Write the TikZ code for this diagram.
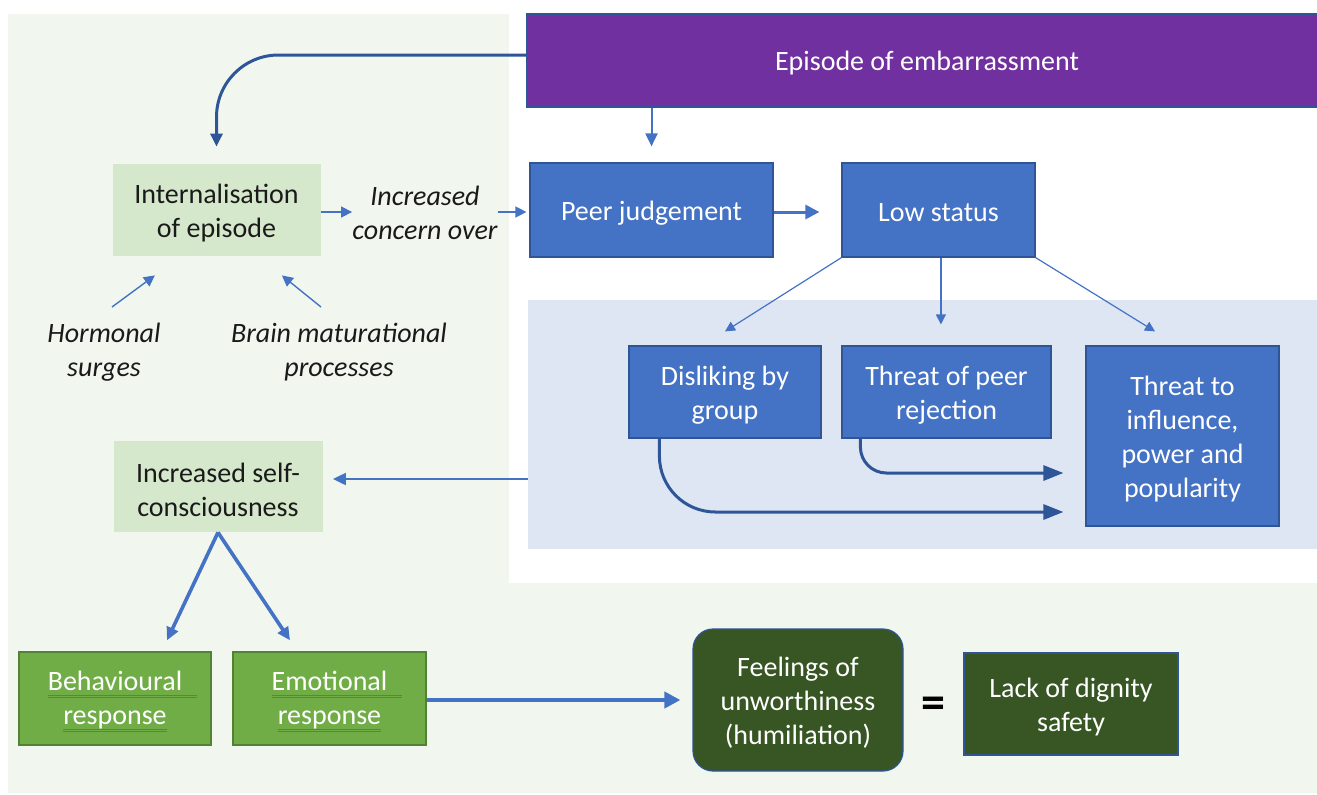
\documentclass[tikz,border=0pt]{standalone}
\usepackage{fontspec}
\setmainfont{Carlito}
\usetikzlibrary{arrows.meta,calc}

\definecolor{panelgreen}{HTML}{F1F7EE}
\definecolor{panelblue}{HTML}{DEE6F4}
\definecolor{palegreen}{HTML}{D5E8CB}
\definecolor{boxblue}{HTML}{4472C4}
\definecolor{edgeblue}{HTML}{2F5597}
\definecolor{episodepurple}{HTML}{7030A0}
\definecolor{leafgreen}{HTML}{70AD47}
\definecolor{leafedge}{HTML}{548235}
\definecolor{deepgreen}{HTML}{375623}
\definecolor{linkblue}{HTML}{4472C4}
\definecolor{navyline}{HTML}{2E5597}
\definecolor{ulblue}{HTML}{3F7FAF}
\definecolor{inkblack}{HTML}{1A1A1A}

% double underline drawn under a word, optionally extended to the right
\newlength\ulwidth
\newcommand\dblul[2][0pt]{\settowidth\ulwidth{#2}\addtolength\ulwidth{#1}%
  \makebox[0pt][l]{\color{ulblue}\rule[-2.8pt]{\ulwidth}{0.5pt}\hspace*{-\ulwidth}\rule[-4pt]{\ulwidth}{0.5pt}}#2}

\begin{document}
\begin{tikzpicture}[x=0.5pt,y=-0.5pt,
  txt/.style={inner sep=0pt, align=center, font=\fontsize{14}{17}\selectfont},
  note/.style={txt, text=inkblack, font=\fontsize{14}{17}\selectfont\itshape},
  box/.style={rectangle, inner sep=0pt},
  bluebox/.style={box, fill=boxblue, draw=edgeblue, line width=0.6pt},
  palebox/.style={box, fill=palegreen},
  leafbox/.style={box, fill=leafgreen, draw=leafedge, line width=0.7pt},
  darkbox/.style={box, fill=deepgreen, draw=edgeblue, line width=0.6pt},
  light/.style={txt, text=white},
  dark/.style={txt, text=inkblack},
  thinlink/.style={draw=linkblue, line width=0.7pt, -{Triangle[length=5.5pt,width=5.5pt]}},
  midlink/.style={draw=linkblue, line width=1pt, -{Triangle[length=6.5pt,width=6pt]}},
  boldlink/.style={draw=linkblue, line width=1.8pt, -{Triangle[length=6.5pt,width=6pt]}},
  navylink/.style={draw=navyline, line width=1.5pt, -{Triangle[length=6.5pt,width=6pt]}},
  curvelink/.style={draw=navyline, line width=1.5pt, -{Triangle[length=10pt,width=7.5pt]}},
  spoke/.style={draw=linkblue, line width=0.6pt, -{Triangle[length=5pt,width=5pt]}}
]
\useasboundingbox (0,0) rectangle (1317,794);
\clip (0,0) rectangle (1317,794);

% background panels
\fill[panelgreen] (8,14) rectangle (509,793);
\fill[panelgreen] (8,583) rectangle (1317,793);
\node[fill=panelblue, inner sep=0pt, minimum width=394.5pt, minimum height=124.5pt] (threats) at (922.5,424.5) {};

% top row
\node[box, fill=episodepurple, draw=edgeblue, line width=0.8pt,
      minimum width=401pt, minimum height=46.5pt] (episode) at (928,60.5) {};
\node[light] (episodetext) at ([xshift=-0.5pt,yshift=-1.5pt]episode.center) {Episode of embarrassment};

\node[palebox, minimum width=104pt, minimum height=46pt] (intern) at (216.5,210) {};
\node[dark] (interntext) at ([yshift=-1.5pt]intern.center) {Internalisation\\of episode};

\node[note] (concern) at (425,213) {Increased\\concern over};

\node[bluebox, minimum width=121.5pt, minimum height=47pt] (peer) at (651.5,210) {};
\node[light] (peertext) at ([yshift=-1.5pt]peer.center) {Peer judgement};

\node[bluebox, minimum width=96.5pt, minimum height=47pt] (low) at (938.5,210) {};
\node[light] (lowtext) at ([yshift=-1.5pt]low.center) {Low status};

% influences on internalisation
\node[note] (hormonal) at (104,352.5) {Hormonal\\surges};
\node[note] (brain) at (339,352.5) {Brain maturational\\processes};
\coordinate (hormtail) at (112,307);
\coordinate (braintail) at (321,307);

% threats
\node[bluebox, minimum width=96pt, minimum height=46pt] (dislike) at (725,392) {};
\node[light] (disliketext) at ([yshift=-1.5pt]dislike.center) {Disliking by\\group};
\node[bluebox, minimum width=104.5pt, minimum height=46pt] (reject) at (946.5,392) {};
\node[light] (rejecttext) at ([yshift=-1.5pt]reject.center) {Threat of peer\\rejection};
\node[bluebox, minimum width=96.5pt, minimum height=90pt] (influence) at (1182.5,436) {};
\node[light] (influencetext) at ([yshift=-1.5pt]influence.center) {Threat to\\influence,\\power and\\popularity};

% self-consciousness and responses
\node[palebox, minimum width=104.5pt, minimum height=45.5pt] (selfc) at (218,486.5) {};
\node[dark] (selfctext) at ([yshift=-1.5pt]selfc.center) {Increased self-\\consciousness};
\node[leafbox, minimum width=96pt, minimum height=46.5pt] (behav) at (115,698.5) {};
\node[light] (behavtext) at ([yshift=-1.5pt]behav.center) {\dblul[7.5pt]{Behavioural}\\\dblul{response}};
\node[leafbox, minimum width=96.5pt, minimum height=46.5pt] (emot) at (329.5,698.5) {};
\node[light] (emottext) at ([yshift=-1.5pt]emot.center) {\dblul[7.5pt]{Emotional}\\\dblul{response}};
\node[darkbox, rounded corners=10pt, minimum width=105pt, minimum height=71pt] (feel) at (798,700) {};
\node[light] (feeltext) at ([yshift=-1.5pt]feel.center) {Feelings of\\unworthiness\\(humiliation)};
\node[inner sep=0pt, font=\fontsize{24}{26}\selectfont\bfseries] (equals) at (933,708) {=};
\node[darkbox, minimum width=107pt, minimum height=51pt] (lack) at (1071,704) {};
\node[light] (lacktext) at ([yshift=-1.5pt]lack.center) {Lack of dignity\\safety};

% connectors
\draw[navylink, rounded corners=31pt] ([yshift=2.75pt]episode.west) -| ([yshift=8.5pt]intern.north);
\draw[midlink] (episode.south -| peer.north) -- ([yshift=8pt]peer.north);
\draw[thinlink] ([yshift=-1pt]intern.east) -- ([yshift=-1pt]intern.east -| concern.west);
\draw[thinlink] ([yshift=-1pt]intern.east -| concern.east) -- ([xshift=-1.5pt,yshift=-1pt]peer.west);
\draw[boldlink, line width=1.5pt, -{Triangle[length=7pt,width=7pt]}] ([yshift=-1pt]peer.east) -- ([xshift=-11pt,yshift=-1pt]low.west);

\draw[thinlink] (hormtail) -- ([xshift=-30.8pt,yshift=-9.5pt]intern.south);
\draw[thinlink] (braintail) -- ([xshift=32.7pt,yshift=-9.5pt]intern.south);

\coordinate (rejtop) at ([yshift=10.5pt]reject.north);
\draw[spoke] (low.south west) -- ([yshift=7pt]dislike.north);
\draw[spoke] ([xshift=1.2pt]low.south) -- ([xshift=1.2pt]low.south |- rejtop);
\draw[spoke] (low.south east) -- ([xshift=-13.75pt,yshift=7pt]influence.north);

\draw[curvelink, rounded corners=13pt] ([xshift=9.5pt]reject.south west) |- ([xshift=-11pt,yshift=-18.5pt]influence.west);
\draw[curvelink, rounded corners=28pt] ([xshift=15.5pt]dislike.south west) |- ([xshift=-11pt,yshift=-38pt]influence.west);

\coordinate (selfin) at ([xshift=5pt,yshift=3.75pt]selfc.east);
\draw[midlink] (threats.west |- selfin) -- (selfin);

\draw[boldlink] (selfc.south) -- ([xshift=26pt,yshift=5.5pt]behav.north);
\draw[boldlink] (selfc.south) -- ([xshift=-19.75pt,yshift=5.5pt]emot.north);

\draw[boldlink, line width=2pt, -{Triangle[length=8pt,width=8pt]}] ([yshift=-0.75pt]emot.east) -- ([xshift=-6pt]feel.west);
\end{tikzpicture}
\end{document}
